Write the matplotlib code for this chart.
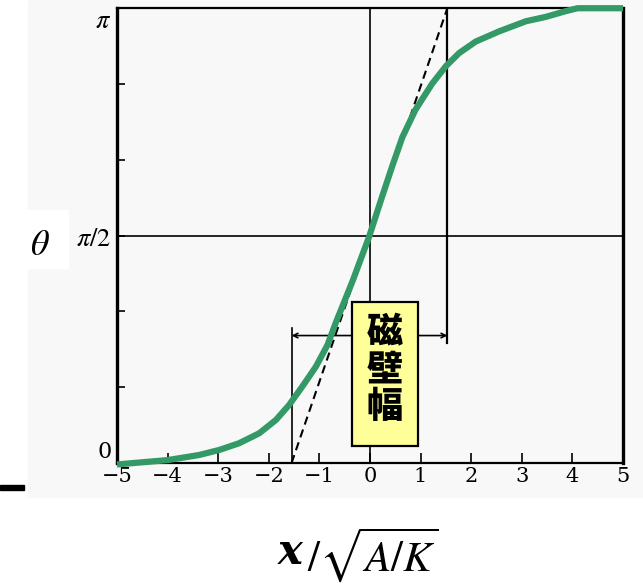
import numpy as np
import matplotlib
matplotlib.use("Agg")
import matplotlib.pyplot as plt
from matplotlib.patches import Rectangle

plt.rcParams['mathtext.fontset'] = 'stix'

# domain wall profile theta(x), x in units of sqrt(A/K)
x_pos = [-5.0, -4.5, -4.0, -3.38, -2.98, -2.59, -2.19, -1.86, -1.6, -1.34,
         -1.07, -0.84, -0.68, -0.34, -0.02, 0.24, 0.44, 0.64, 0.9, 1.23,
         1.5, 1.76, 2.09, 2.55, 3.08, 3.47, 3.87, 4.1, 4.5, 5.0]
theta = [-0.01, 0.005, 0.02, 0.055, 0.09, 0.136, 0.205, 0.297, 0.40, 0.527,
         0.665, 0.815, 0.965, 1.26, 1.56, 1.84, 2.05, 2.25, 2.44, 2.62,
         2.74, 2.83, 2.91, 2.98, 3.05, 3.08, 3.12, 3.14, 3.14, 3.14]

# linear approximation through the centre and the wall width marker
wall_x = [-1.55, 1.53]
wall_theta = [0.0, np.pi]
marker_level = 0.88

x_ticks = [-5, -4, -3, -2, -1, 0, 1, 2, 3, 4, 5]
x_ticklabels = ['\u22125', '\u22124', '\u22123', '\u22122', '\u22121',
                '0', '1', '2', '3', '4', '5']
y_ticks = [0, np.pi / 2, np.pi]
y_ticklabels = ['0', r'$\pi/2$', r'$\pi$']
y_minor = [np.pi / 6, np.pi / 3, 2 * np.pi / 3, 5 * np.pi / 6]

fig = plt.figure(figsize=(6.43, 5.86), dpi=100)

# faint scan background behind the plot
fig.patches.append(Rectangle((28 / 643, 1 - 497 / 586), 615 / 643, 497 / 586,
                             transform=fig.transFigure, color='#f8f8f8', zorder=0))
fig.patches.append(Rectangle((0, 1 - 268 / 586), 68 / 643, 58 / 586,
                             transform=fig.transFigure, color='white', zorder=0))
fig.patches.append(Rectangle((0, 1 - 490 / 586), 24 / 643, 5 / 586,
                             transform=fig.transFigure, color='black', zorder=1))

ax = fig.add_axes([117 / 643, 1 - 463 / 586, 506 / 643, 455 / 586])
ax.set_zorder(3)
ax.set_facecolor('none')
ax.set_xlim(-5, 5)
ax.set_ylim(0, np.pi)

for side, lw in [('left', 2.4), ('right', 2.4), ('top', 1.6), ('bottom', 1.6)]:
    ax.spines[side].set_linewidth(lw)

ax.set_xticks(x_ticks)
ax.set_xticklabels(x_ticklabels, family='DejaVu Serif', fontsize=15)
ax.set_yticks(y_ticks)
ax.set_yticklabels(y_ticklabels, fontsize=19)
ylabels = ax.get_yticklabels()
ylabels[0].set_va('bottom')
ylabels[0].set_family('DejaVu Serif')
ylabels[0].set_fontsize(16)
ylabels[2].set_va('top')
ax.set_yticks(y_minor, minor=True)
ax.tick_params(axis='x', direction='in', length=7, width=1.2, pad=3)
ax.tick_params(axis='y', which='both', direction='in', length=6, width=1.2, pad=4)

# reference lines
ax.axhline(np.pi / 2, color='black', lw=1.2, zorder=2)
ax.axvline(0, color='black', lw=1.2, zorder=2)

# tangent at the wall centre
ax.plot(wall_x, wall_theta, color='black', lw=1.5, dashes=(4, 2.5), zorder=3)

# wall width marker
ax.plot([wall_x[0], wall_x[0]], [0, marker_level + 0.05], color='black', lw=1.2, zorder=2)
ax.plot([wall_x[1], wall_x[1]], [marker_level - 0.05, np.pi], color='black', lw=1.6, zorder=2)
ax.annotate('', xy=(wall_x[0], marker_level), xytext=(wall_x[1], marker_level),
            arrowprops=dict(arrowstyle='<->', color='black', lw=1.2,
                            mutation_scale=8, shrinkA=0, shrinkB=0), zorder=2)

ax.plot(x_pos, theta, color='#339966', lw=4.5, solid_capstyle='butt',
        solid_joinstyle='round', zorder=4, clip_on=False)

# label box
ax.add_patch(Rectangle((-0.36, 0.117), 1.31, 0.993, facecolor='#ffff99',
                       edgecolor='black', lw=1.6, zorder=5))
for i, ch in enumerate('磁壁幅'):
    ax.text(0.295, 0.90 - i * 0.255, ch, ha='center', va='center', fontsize=26,
            fontweight='heavy', family=['Noto Sans CJK JP', 'DejaVu Sans'], zorder=6)

fig.text(40 / 643, 1 - 245 / 586, r'$\theta$', fontsize=26, ha='center', va='center')
fig.text(290 / 643, 1 - 552 / 586, 'x', fontsize=30, fontweight='bold', style='italic',
         family='DejaVu Serif', ha='center', va='center')
fig.text(307 / 643, 1 - 555 / 586, r'$/\sqrt{A/K}$', fontsize=31, ha='left', va='center')

fig.savefig('out.png', dpi=100, facecolor='white')
